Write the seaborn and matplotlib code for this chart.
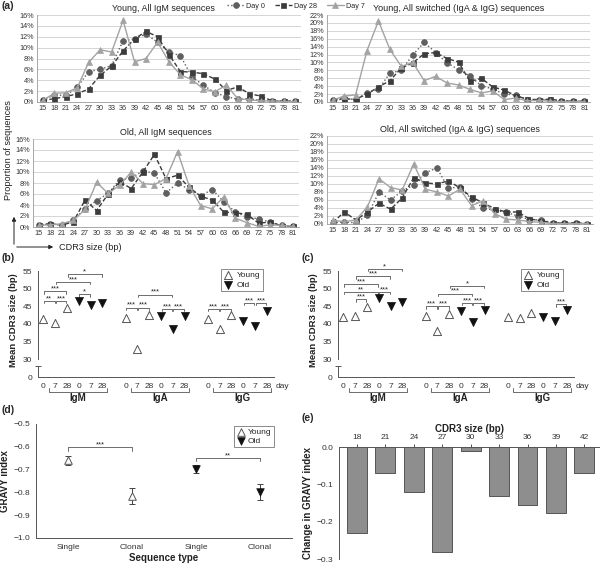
import numpy as np
import pandas as pd
import matplotlib
matplotlib.use("Agg")
import matplotlib.pyplot as plt
from matplotlib.transforms import blended_transform_factory
import seaborn as sns

sns.set_theme(style="white")
plt.rcParams["font.family"] = ["Liberation Sans", "DejaVu Sans"]

# ---------------- data ----------------
cdr3_sizes = list(range(15, 82, 3))

young_igm_day0 = [0.3, 1.3, 1.2, 2.7, 5.6, 6.0, 6.7, 11.3, 11.6, 12.5, 11.0, 9.2, 8.5, 4.6, 3.1, 1.7, 1.0, 0.5, 0.6, 0.3, 0.2, 0.2, 0.1]
young_igm_day28 = [0.3, 0.6, 1.0, 1.5, 2.4, 4.9, 6.6, 9.4, 11.6, 13.0, 12.0, 8.7, 5.6, 5.5, 5.2, 4.2, 2.1, 2.8, 1.5, 1.1, 0.2, 0.2, 0.1]
young_igm_day7 = [0.3, 1.6, 1.7, 2.6, 7.3, 9.6, 9.2, 15.0, 7.4, 8.0, 11.0, 7.4, 5.0, 4.1, 2.4, 1.9, 3.1, 0.6, 0.4, 0.2, 0.2, 0.1, 0.1]

young_sw_day0 = [0.4, 0.9, 0.6, 2.3, 3.2, 7.3, 8.0, 11.9, 15.1, 12.5, 9.9, 8.2, 6.6, 4.1, 3.3, 2.0, 1.8, 0.6, 0.6, 0.6, 0.3, 0.2, 0.2]
young_sw_day28 = [0.4, 0.8, 0.7, 2.0, 3.8, 5.4, 8.6, 9.9, 12.2, 12.5, 11.0, 10.1, 5.2, 6.0, 3.8, 3.0, 1.6, 0.7, 0.6, 0.7, 0.3, 0.2, 0.2]
young_sw_day7 = [0.5, 1.5, 1.8, 13.0, 20.5, 13.3, 9.0, 10.0, 5.4, 6.5, 4.8, 4.3, 3.2, 2.3, 2.8, 0.6, 1.0, 0.3, 0.4, 0.2, 0.1, 0.1, 0.1]

old_igm_day0 = [0.3, 0.6, 0.3, 1.3, 3.3, 4.8, 6.1, 8.6, 8.9, 10.2, 9.8, 6.2, 8.0, 6.8, 5.7, 6.8, 4.6, 2.7, 1.8, 1.5, 0.9, 0.3, 0.1]
old_igm_day28 = [0.3, 0.6, 0.3, 1.0, 4.9, 3.0, 6.0, 8.2, 7.0, 10.0, 13.2, 8.8, 9.4, 7.2, 5.6, 4.9, 2.7, 2.6, 2.3, 0.7, 0.9, 0.2, 0.1]
old_igm_day7 = [0.3, 0.4, 0.6, 1.2, 3.2, 8.1, 6.1, 7.6, 10.0, 7.9, 7.7, 8.8, 13.7, 7.5, 3.9, 3.3, 5.5, 1.6, 0.8, 0.1, 0.4, 0.3, 0.1]

old_sw_day0 = [0.3, 0.5, 0.3, 2.2, 8.0, 6.0, 8.3, 9.7, 12.8, 14.0, 9.0, 9.2, 6.2, 4.0, 3.4, 2.9, 2.0, 1.1, 1.0, 0.3, 0.2, 0.2, 0.1]
old_sw_day28 = [0.4, 3.0, 1.0, 3.0, 5.2, 3.7, 6.5, 11.6, 10.3, 10.0, 10.8, 9.0, 6.7, 5.3, 3.8, 3.0, 3.0, 1.3, 0.8, 0.3, 0.2, 0.3, 0.1]
old_sw_day7 = [0.9, 0.6, 1.0, 4.3, 11.3, 9.1, 8.5, 15.0, 8.7, 8.0, 7.0, 8.7, 4.6, 5.8, 2.6, 1.2, 1.0, 0.6, 0.4, 0.1, 0.1, 0.1, 0.1]

isotypes = ["IgM", "IgA", "IgG"]
day_labels = ["0", "7", "28"]

# panel b: mean CDR3 size, per isotype [day0, day7, day28]
b_young = {"IgM": [41.5, 40.2, 44.5], "IgA": [41.7, 32.8, 42.5], "IgG": [41.4, 38.5, 42.6]}
b_old = {"IgM": [46.5, 45.2, 46.0], "IgA": [42.3, 38.5, 42.3], "IgG": [40.9, 39.5, 43.6]}
# panel c
c_young = {"IgM": [41.8, 42.3, 44.8], "IgA": [42.3, 38.0, 42.8], "IgG": [42.0, 41.6, 43.0]}
c_old = {"IgM": [47.2, 45.0, 46.2], "IgA": [43.7, 40.5, 44.0], "IgG": [41.8, 40.8, 44.0]}

# significance brackets: (isotype, i, j, y, label)   i/j index 0..5 (young 0,7,28, old 0,7,28)
b_sig = [("IgM", 0, 1, 46.5, "**"), ("IgM", 1, 2, 46.5, "***"), ("IgM", 0, 2, 49.2, "***"),
         ("IgM", 3, 4, 48.4, "*"), ("IgM", 1, 4, 51.9, "***"), ("IgM", 2, 5, 54.1, "*"),
         ("IgA", 0, 1, 44.6, "***"), ("IgA", 1, 2, 44.6, "***"), ("IgA", 3, 4, 44.3, "***"),
         ("IgA", 4, 5, 44.3, "***"), ("IgA", 1, 4, 48.3, "***"),
         ("IgG", 0, 1, 44.3, "***"), ("IgG", 1, 2, 44.3, "***"), ("IgG", 3, 4, 46.0, "***"),
         ("IgG", 4, 5, 46.0, "***")]
c_sig = [("IgM", 1, 2, 47.0, "***"), ("IgM", 0, 3, 49.1, "**"), ("IgM", 3, 4, 49.1, "***"),
         ("IgM", 0, 3, 51.2, "***"), ("IgM", 1, 4, 53.5, "***"), ("IgM", 2, 5, 55.6, "*"),
         ("IgA", 0, 1, 45.0, "***"), ("IgA", 1, 2, 45.0, "***"), ("IgA", 3, 4, 46.0, "***"),
         ("IgA", 4, 5, 46.0, "***"), ("IgA", 1, 4, 48.6, "***"), ("IgA", 2, 5, 50.8, "*"),
         ("IgG", 4, 5, 45.6, "***")]

# panel d: GRAVY index
d_categories = ["Single", "Clonal", "Single", "Clonal"]
d_young_mean = [-0.660, -0.817]
d_young_err = [0.018, 0.035]
d_old_mean = [-0.698, -0.800]
d_old_err = [0.018, 0.035]

# panel e: change in GRAVY index
e_sizes = ["18", "21", "24", "27", "30", "33", "36", "39", "42"]
e_change = [-0.23, -0.07, -0.12, -0.282, -0.012, -0.13, -0.155, -0.177, -0.07]

# ---------------- figure ----------------
W, H = 600, 567
fig = plt.figure(figsize=(W / 100, H / 100), dpi=100)


def add_ax(left, top, right, bottom):
    return fig.add_axes([left / W, 1 - bottom / H, (right - left) / W, (bottom - top) / H])


def fy(ypx):
    return 1 - ypx / H


def fx(xpx):
    return xpx / W


TICK_FS = 5.2
DARK = "#333333"

series_style = [
    ("Day 0", "#5f5f5f", "o", ":", 4.2),
    ("Day 28", "#3c3c3c", "s", (0, (3.2, 1.6)), 3.6),
    ("Day 7", "#a3a3a3", "^", "-", 4.0),
]


def line_panel(rect, title, d0, d28, d7, ymax, title_fs):
    ax = add_ax(*rect)
    for (lab, col, mk, ls, ms), vals in zip(series_style, [d0, d28, d7]):
        df = pd.DataFrame({"size": cdr3_sizes, "pct": vals})
        sns.lineplot(data=df, x="size", y="pct", ax=ax, color=col, marker=mk,
                     linestyle=ls, linewidth=1.0, markersize=ms,
                     markeredgecolor=col, markeredgewidth=0.5, label=lab, legend=False)
    ax.set_xlim(13.5, 82.5)
    ax.set_ylim(0, ymax)
    ax.set_xticks(cdr3_sizes)
    ax.set_xticklabels([str(s) for s in cdr3_sizes])
    yt = list(range(0, ymax + 1, 2))
    ax.set_yticks(yt)
    ax.set_yticklabels([f"{v}%" for v in yt])
    ax.tick_params(axis="both", labelsize=TICK_FS, length=0, pad=2, colors=DARK)
    ax.grid(axis="y", color="#cfcfcf", linewidth=0.6)
    ax.set_axisbelow(True)
    for s in ["top", "right"]:
        ax.spines[s].set_visible(False)
    for s in ["left", "bottom"]:
        ax.spines[s].set_color("#9a9a9a")
        ax.spines[s].set_linewidth(0.6)
    ax.set_xlabel("")
    ax.set_ylabel("")
    ax.set_title(title, fontsize=title_fs, pad=3, color="#222222")
    return ax


ax_tl = line_panel((37, 15, 301, 102), "Young, All IgM sequences",
                   young_igm_day0, young_igm_day28, young_igm_day7, 16, 6.4)
ax_tr = line_panel((327, 15, 590, 102), "Young, All switched (IgA & IgG) sequences",
                   young_sw_day0, young_sw_day28, young_sw_day7, 22, 6.5)
ax_bl = line_panel((33, 139, 299, 227), "Old, All IgM sequences",
                   old_igm_day0, old_igm_day28, old_igm_day7, 16, 6.4)
ax_br = line_panel((327, 136, 593, 224), "Old, All switched (IgA & IgG) sequences",
                   old_sw_day0, old_sw_day28, old_sw_day7, 22, 6.5)
ax_tl.title.set_position((0.48, 1.0))

handles, labels = ax_tl.get_legend_handles_labels()
fig.legend(handles, labels, loc="center", bbox_to_anchor=(fx(296), fy(6)), ncol=3,
           frameon=False, fontsize=TICK_FS, handlelength=2.4, columnspacing=1.3,
           handletextpad=0.3, borderaxespad=0)

fig.text(fx(9), fy(150), "Proportion of sequences", rotation=90, ha="center",
         va="center", fontsize=6.6, color="#222222")
fig.add_artist(matplotlib.patches.FancyArrowPatch((fx(14), fy(247)), (fx(14), fy(214)),
               transform=fig.transFigure, arrowstyle="-|>", mutation_scale=6,
               color="#222222", lw=0.7))
fig.add_artist(matplotlib.patches.FancyArrowPatch((fx(14), fy(247)), (fx(56), fy(247)),
               transform=fig.transFigure, arrowstyle="-|>", mutation_scale=6,
               color="#222222", lw=0.7))
fig.text(fx(59), fy(247), "CDR3 size (bp)", ha="left", va="center", fontsize=6.6,
         color="#222222")

fig.text(fx(2), fy(6), "(a)", fontsize=7.5, fontweight="bold", va="center")

# ---------------- panels b / c ----------------
GROUP_STRIDE = 6.95


def mean_panel(xoff, young, old, sigs, label):
    top = add_ax(38 + xoff, 271, 274 + xoff, 359)
    bot = add_ax(38 + xoff, 366, 274 + xoff, 377)
    rows = []
    for g, iso in enumerate(isotypes):
        for i in range(3):
            rows.append({"pos": g * GROUP_STRIDE + i, "val": young[iso][i], "age": "Young"})
            rows.append({"pos": g * GROUP_STRIDE + 3 + i, "val": old[iso][i], "age": "Old"})
    df = pd.DataFrame(rows)
    dy = df[df.age == "Young"]
    do = df[df.age == "Old"]
    sns.scatterplot(data=dy, x="pos", y="val", ax=top, marker="^", s=34, color="white",
                    edgecolor="#555555", linewidth=0.7, label="Young", zorder=3)
    sns.scatterplot(data=do, x="pos", y="val", ax=top, marker="v", s=34, color="#111111",
                    edgecolor="#111111", linewidth=0.5, label="Old", zorder=3)
    xl = (-0.45, 19.5)
    for a in (top, bot):
        a.set_xlim(*xl)
        a.set_xlabel("")
        a.set_ylabel("")
        a.patch.set_alpha(0)
        for s in ["top", "right"]:
            a.spines[s].set_visible(False)
        a.spines["left"].set_color("#555555")
        a.spines["left"].set_linewidth(0.7)
    top.set_ylim(30, 55)
    top.set_yticks([30, 35, 40, 45, 50, 55])
    top.spines["bottom"].set_visible(False)
    top.set_xticks([])
    top.tick_params(axis="y", labelsize=6, length=2.5, width=0.6, pad=1.5, colors="#333333")
    bot.set_ylim(0, 1)
    bot.set_yticks([0])
    bot.spines["bottom"].set_color("#555555")
    bot.spines["bottom"].set_linewidth(0.7)
    positions = sorted(df["pos"].tolist())
    bot.set_xticks(positions)
    bot.set_xticklabels(day_labels * 6)
    bot.tick_params(axis="both", labelsize=6, length=2.5, width=0.6, pad=1.5, colors="#333333")
    bot.plot([0], [1], transform=bot.transAxes, marker="_", markersize=4, color="#555555",
             clip_on=False, mew=0.7)
    top.legend(loc="upper right", bbox_to_anchor=(fx(267 + xoff), fy(265)),
               bbox_transform=fig.transFigure, fontsize=6, frameon=True, fancybox=False,
               edgecolor="#555555", handletextpad=0.4, borderpad=0.3, labelspacing=0.2,
               handlelength=1.2).get_frame().set_linewidth(0.6)

    # significance brackets
    for iso, i, j, y, txt in sigs:
        g = isotypes.index(iso)
        x1 = g * GROUP_STRIDE + i + 0.05
        x2 = g * GROUP_STRIDE + j - 0.05
        top.plot([x1, x1, x2, x2], [y - 0.7, y, y, y - 0.7], color="#555555", lw=0.6,
                 clip_on=False)
        top.text((x1 + x2) / 2, y - 0.35, txt, ha="center", va="bottom", fontsize=5.5,
                 color="#222222", clip_on=False)

    # isotype group brackets
    tr = blended_transform_factory(bot.transData, fig.transFigure)
    for g, iso in enumerate(isotypes):
        a0 = g * GROUP_STRIDE + 0.45
        a1 = g * GROUP_STRIDE + 5.35
        bot.plot([a0, a0, a1, a1], [fy(388), fy(391.5), fy(391.5), fy(388)], transform=tr,
                 color="#555555", lw=0.6, clip_on=False)
        bot.text((a0 + a1) / 2, fy(398), iso, transform=tr, ha="center", va="center",
                 fontsize=7, fontweight="bold", color="#222222")
    bot.text(2 * GROUP_STRIDE + 5.75, fy(386), "day", transform=tr, ha="left", va="center",
             fontsize=6, color="#333333")
    fig.text(fx(14 + xoff), fy(320), "Mean CDR3 size (bp)", rotation=90, ha="center",
             va="center", fontsize=6.8, fontweight="bold", color="#222222")
    fig.text(fx(2 + xoff), fy(258), label, fontsize=7.5, fontweight="bold", va="center")


mean_panel(0, b_young, b_old, b_sig, "(b)")
mean_panel(300, c_young, c_old, c_sig, "(c)")

# ---------------- panel d ----------------
ax_d = add_ax(36, 424, 292, 538)
dfy = pd.DataFrame({"x": [0, 1], "m": d_young_mean, "e": d_young_err})
dfo = pd.DataFrame({"x": [2, 3], "m": d_old_mean, "e": d_old_err})
ax_d.errorbar(dfy["x"], dfy["m"], yerr=dfy["e"], fmt="none", ecolor="#444444", elinewidth=0.7,
              capsize=2.5, capthick=0.7, zorder=2)
ax_d.errorbar(dfo["x"], dfo["m"], yerr=dfo["e"], fmt="none", ecolor="#444444", elinewidth=0.7,
              capsize=2.5, capthick=0.7, zorder=2)
sns.scatterplot(data=dfy, x="x", y="m", ax=ax_d, marker="^", s=30, color="white",
                edgecolor="#555555", linewidth=0.7, label="Young", zorder=3)
sns.scatterplot(data=dfo, x="x", y="m", ax=ax_d, marker="v", s=30, color="#111111",
                edgecolor="#111111", linewidth=0.5, label="Old", zorder=3)
ax_d.set_xlim(-0.5, 3.5)
ax_d.set_ylim(-1.0, -0.5)
ax_d.set_xticks([0, 1, 2, 3])
ax_d.set_xticklabels(d_categories)
ax_d.set_yticks([-1.0, -0.9, -0.8, -0.7, -0.6, -0.5])
ax_d.set_yticklabels(["\u22121.0", "\u22120.9", "\u22120.8", "\u22120.7", "\u22120.6", "\u22120.5"])
ax_d.tick_params(axis="both", labelsize=6, length=2.5, width=0.6, pad=1.5, colors="#333333")
for s in ["top", "right"]:
    ax_d.spines[s].set_visible(False)
for s in ["left", "bottom"]:
    ax_d.spines[s].set_color("#555555")
    ax_d.spines[s].set_linewidth(0.7)
ax_d.set_xlabel("Sequence type", fontsize=7, fontweight="bold", labelpad=2, color="#222222")
ax_d.set_ylabel("GRAVY index", fontsize=7, fontweight="bold", labelpad=3, color="#222222")
for x1, x2, y, txt in [(0, 1, -0.603, "***"), (2, 3, -0.650, "**")]:
    ax_d.plot([x1, x1, x2, x2], [y - 0.014, y, y, y - 0.014], color="#555555", lw=0.6)
    ax_d.text((x1 + x2) / 2, y - 0.004, txt, ha="center", va="bottom", fontsize=5.5,
              color="#222222")
leg = ax_d.legend(loc="upper right", bbox_to_anchor=(fx(278), fy(422)),
                  bbox_transform=fig.transFigure, fontsize=6, frameon=True, fancybox=False,
                  edgecolor="#555555", handletextpad=0.4, borderpad=0.25, labelspacing=0.1,
                  handlelength=1.0)
leg.get_frame().set_linewidth(0.6)
fig.text(fx(2), fy(410), "(d)", fontsize=7.5, fontweight="bold", va="center")

# ---------------- panel e ----------------
ax_e = add_ax(339, 447, 600, 559)
dfe = pd.DataFrame({"size": e_sizes, "change": e_change})
sns.barplot(data=dfe, x="size", y="change", ax=ax_e, color="#8e8e8e", edgecolor="#555555",
            linewidth=0.7, width=0.7, saturation=1)
ax_e.set_xlim(-0.63, 8.55)
ax_e.set_ylim(-0.3, 0.0)
ax_e.xaxis.tick_top()
ax_e.xaxis.set_label_position("top")
ax_e.set_yticks([-0.3, -0.2, -0.1, 0.0])
ax_e.set_yticklabels(["\u22120.3", "\u22120.2", "\u22120.1", "0.0"])
ax_e.tick_params(axis="both", labelsize=6, length=2.5, width=0.6, pad=1.5, colors="#333333")
for s in ["bottom", "right"]:
    ax_e.spines[s].set_visible(False)
for s in ["left", "top"]:
    ax_e.spines[s].set_color("#555555")
    ax_e.spines[s].set_linewidth(0.7)
ax_e.set_xlabel("CDR3 size (bp)", fontsize=7, fontweight="bold", labelpad=2, color="#222222")
ax_e.set_ylabel("Change in GRAVY index", fontsize=7, fontweight="bold", labelpad=3,
                color="#222222")
fig.text(fx(302), fy(418), "(e)", fontsize=7.5, fontweight="bold", va="center")

fig.savefig("out.png", dpi=100)
